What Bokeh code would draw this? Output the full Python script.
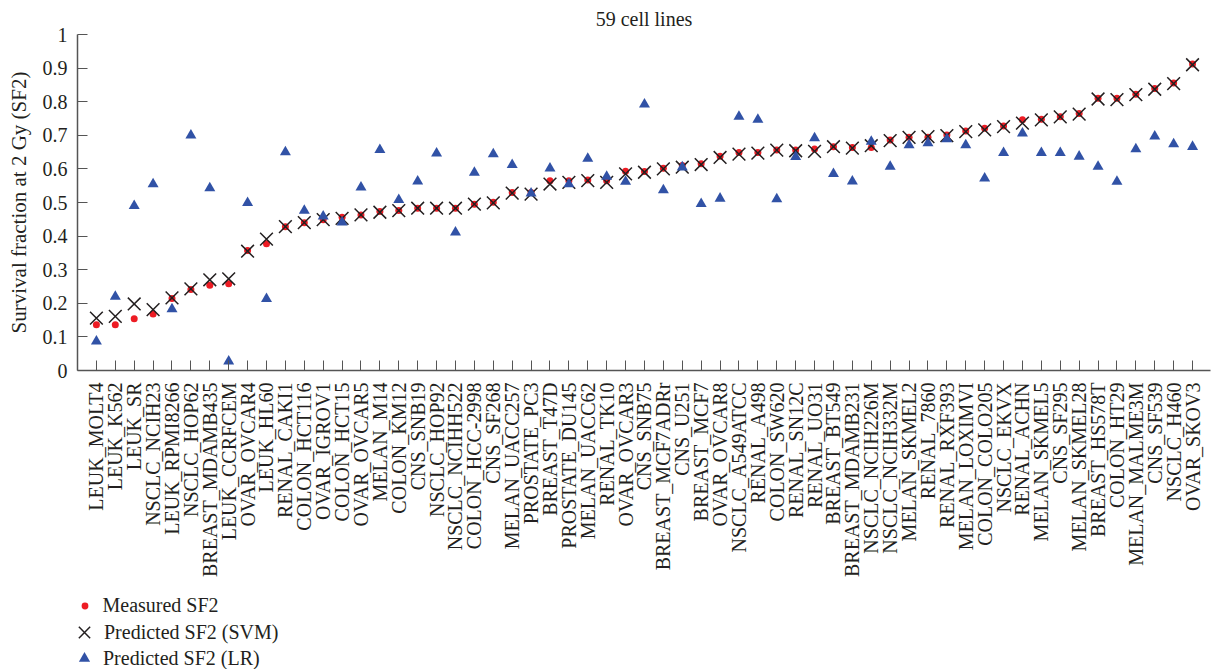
import math
from bokeh.plotting import figure
from bokeh.layouts import column
from bokeh.models import Range1d, FixedTicker, Legend, LegendItem
from bokeh.embed import file_html
from bokeh.resources import INLINE

cell_lines = [
    "LEUK_MOLT4", "LEUK_K562", "LEUK_SR", "NSCLC_NCIH23", "LEUK_RPMI8266",
    "NSCLC_HOP62", "BREAST_MDAMB435", "LEUK_CCRFCEM", "OVAR_OVCAR4", "LEUK_HL60",
    "RENAL_CAKI1", "COLON_HCT116", "OVAR_IGROV1", "COLON_HCT15", "OVAR_OVCAR5",
    "MELAN_M14", "COLON_KM12", "CNS_SNB19", "NSCLC_HOP92", "NSCLC_NCIHH522",
    "COLON_HCC-2998", "CNS_SF268", "MELAN_UACC257", "PROSTATE_PC3", "BREAST_T47D",
    "PROSTATE_DU145", "MELAN_UACC62", "RENAL_TK10", "OVAR_OVCAR3", "CNS_SNB75",
    "BREAST_MCF7ADRr", "CNS_U251", "BREAST_MCF7", "OVAR_OVCAR8", "NSCLC_A549ATCC",
    "RENAL_A498", "COLON_SW620", "RENAL_SN12C", "RENAL_UO31", "BREAST_BT549",
    "BREAST_MDAMB231", "NSCLC_NCIH226M", "NSCLC_NCIH332M", "MELAN_SKMEL2", "RENAL_7860",
    "RENAL_RXF393", "MELAN_LOXIMVI", "COLON_COLO205", "NSCLC_EKVX", "RENAL_ACHN",
    "MELAN_SKMEL5", "CNS_SF295", "MELAN_SKMEL28", "BREAST_HS578T", "COLON_HT29",
    "MELAN_MALME3M", "CNS_SF539", "NSCLC_H460", "OVAR_SKOV3",
]

measured_sf2 = [
    0.136, 0.136, 0.154, 0.168, 0.214, 0.241, 0.254, 0.258, 0.357, 0.377,
    0.428, 0.440, 0.449, 0.456, 0.463, 0.473, 0.476, 0.483, 0.483, 0.483,
    0.495, 0.501, 0.530, 0.530, 0.565, 0.565, 0.567, 0.565, 0.593, 0.592,
    0.602, 0.610, 0.615, 0.638, 0.649, 0.649, 0.656, 0.656, 0.659, 0.666,
    0.664, 0.664, 0.686, 0.694, 0.694, 0.701, 0.713, 0.721, 0.728, 0.746,
    0.748, 0.755, 0.765, 0.810, 0.810, 0.822, 0.839, 0.856, 0.912,
]

svm_sf2 = [
    0.156, 0.161, 0.198, 0.181, 0.216, 0.243, 0.270, 0.273, 0.355, 0.391,
    0.428, 0.440, 0.449, 0.453, 0.463, 0.471, 0.476, 0.483, 0.483, 0.483,
    0.495, 0.499, 0.528, 0.525, 0.555, 0.560, 0.565, 0.560, 0.585, 0.590,
    0.600, 0.605, 0.613, 0.634, 0.644, 0.647, 0.656, 0.654, 0.652, 0.666,
    0.662, 0.669, 0.684, 0.694, 0.696, 0.699, 0.711, 0.716, 0.726, 0.736,
    0.746, 0.755, 0.763, 0.808, 0.806, 0.821, 0.837, 0.854, 0.910,
]

lr_sf2 = [
    0.087, 0.220, 0.490, 0.555, 0.183, 0.700, 0.543, 0.027, 0.499, 0.213,
    0.650, 0.476, 0.459, 0.441, 0.545, 0.657, 0.508, 0.563, 0.646, 0.411,
    0.589, 0.644, 0.612, 0.527, 0.602, 0.555, 0.631, 0.577, 0.562, 0.792,
    0.537, 0.605, 0.496, 0.512, 0.756, 0.747, 0.510, 0.636, 0.692, 0.585,
    0.563, 0.681, 0.607, 0.671, 0.677, 0.689, 0.671, 0.572, 0.648, 0.706,
    0.648, 0.648, 0.637, 0.607, 0.562, 0.659, 0.697, 0.674, 0.666,
]

y_ticks = [0.0, 0.1, 0.2, 0.3, 0.4, 0.5, 0.6, 0.7, 0.8, 0.9, 1.0]
y_tick_labels = ["0", "0.1", "0.2", "0.3", "0.4", "0.5", "0.6", "0.7", "0.8", "0.9", "1"]

legend_labels = ["Measured SF2", "Predicted SF2 (SVM)", "Predicted SF2 (LR)"]

FONT = "Liberation Serif"
TXT = "#231F20"
AX = "#555555"
RED = "#ED1C24"
BLUE = "#3152A6"

xs = list(range(len(cell_lines)))

p = figure(
    frame_width=1133, frame_height=336,
    x_range=Range1d(-1, 58.95), y_range=Range1d(0, 1),
    output_backend="svg", toolbar_location=None,
    min_border_left=77, min_border_right=1, min_border_top=32, min_border_bottom=218,
    outline_line_color=None,
)

p.title.text = "59 cell lines"
p.title.align = "center"
p.title.text_font = FONT
p.title.text_font_size = "20px"
p.title.text_font_style = "normal"
p.title.text_color = TXT
p.title.standoff = 10

p.xgrid.grid_line_color = None
p.ygrid.grid_line_color = None

# x axis
p.xaxis.ticker = FixedTicker(ticks=xs)
p.xaxis.major_label_overrides = {i: n for i, n in zip(xs, cell_lines)}
p.xaxis.major_label_orientation = math.pi / 2
p.xaxis.major_label_text_font = FONT
p.xaxis.major_label_text_font_size = "20px"
p.xaxis.major_label_text_color = TXT
p.xaxis.major_label_standoff = 12
p.xaxis.major_tick_in = 10
p.xaxis.major_tick_out = 0
p.xaxis.minor_tick_line_color = None
p.xaxis.axis_line_color = AX
p.xaxis.axis_line_width = 1.5
p.xaxis.major_tick_line_color = AX

# y axis
p.yaxis.ticker = FixedTicker(ticks=y_ticks)
p.yaxis.major_label_overrides = {t: l for t, l in zip(y_ticks, y_tick_labels)}
p.yaxis.major_label_text_font = FONT
p.yaxis.major_label_text_font_size = "20px"
p.yaxis.major_label_text_color = TXT
p.yaxis.major_label_standoff = 10
p.yaxis.major_tick_in = 10
p.yaxis.major_tick_out = 0
p.yaxis.minor_tick_line_color = None
p.yaxis.axis_line_color = AX
p.yaxis.axis_line_width = 1.5
p.yaxis.major_tick_line_color = AX
p.yaxis.axis_label = "Survival fraction at 2 Gy (SF2)"
p.yaxis.axis_label_text_font = FONT
p.yaxis.axis_label_text_font_size = "21px"
p.yaxis.axis_label_text_font_style = "normal"
p.yaxis.axis_label_text_color = TXT
p.yaxis.axis_label_standoff = 9

meas_style = dict(marker="circle", size=7, fill_color=RED, line_color=None)
svm_style = dict(marker="x", size=18, line_color=TXT, line_width=1.5)
lr_style = dict(marker="triangle", size=11, fill_color=BLUE, line_color=None)

p.scatter(xs, measured_sf2, **meas_style)
p.scatter(xs, svm_sf2, **svm_style)
p.scatter(xs, lr_sf2, **lr_style)

# legend strip below the chart: hidden copies of the series supply the legend glyphs
q = figure(
    width=1211, height=83,
    x_range=Range1d(-1, 58.95), y_range=Range1d(0, 1),
    x_axis_type=None, y_axis_type=None,
    output_backend="svg", toolbar_location=None,
    min_border=0, outline_line_color=None,
)
q.xgrid.grid_line_color = None
q.ygrid.grid_line_color = None
lm = q.scatter(xs, measured_sf2, visible=False, **meas_style)
ls = q.scatter(xs, svm_sf2, visible=False, **svm_style)
ll = q.scatter(xs, lr_sf2, visible=False, **lr_style)

common = dict(
    orientation="vertical", click_policy="none",
    margin=0, padding=0, spacing=0,
    border_line_color=None, background_fill_alpha=0, inactive_fill_alpha=0,
    label_text_font=FONT, label_text_font_size="20px", label_text_color=TXT,
)

# one legend per entry so each marker keeps its own size
leg1 = Legend(items=[LegendItem(label=legend_labels[0], renderers=[lm])],
              location=(-1.5, 54.5), glyph_width=17, glyph_height=17,
              label_height=23, label_standoff=10, **common)
leg2 = Legend(items=[LegendItem(label=legend_labels[1], renderers=[ls])],
              location=(-13, 19), glyph_width=40, glyph_height=40,
              label_height=23, label_standoff=0, **common)
leg3 = Legend(items=[LegendItem(label=legend_labels[2], renderers=[ll])],
              location=(-7, -1), glyph_width=28, glyph_height=28,
              label_height=23, label_standoff=5, **common)
for leg in (leg1, leg2, leg3):
    q.add_layout(leg, "center")

open("out.html", "w").write(file_html(column(p, q, spacing=0), INLINE))
